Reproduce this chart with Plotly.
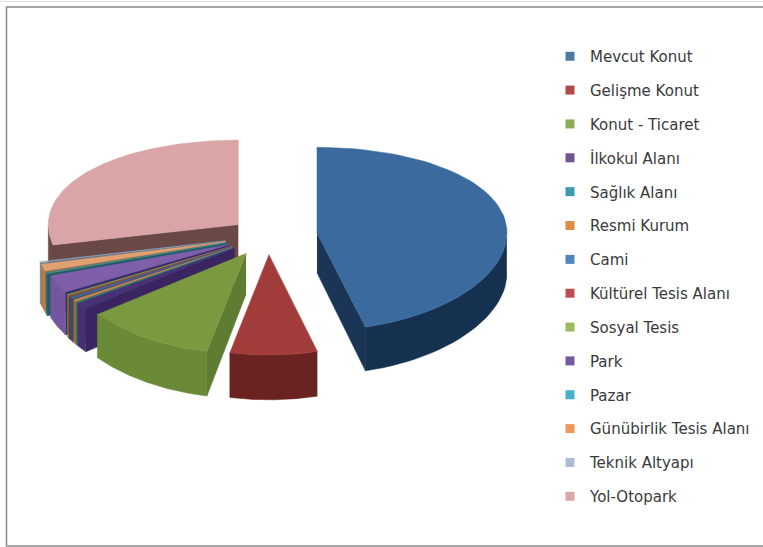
import numpy as np
import plotly.graph_objects as go

# Land-use shares (percent), clockwise from twelve o'clock
categories = ["Mevcut Konut", "Gelişme Konut", "Konut - Ticaret", "İlkokul Alanı", "Sağlık Alanı",
              "Resmi Kurum", "Cami", "Kültürel Tesis Alanı", "Sosyal Tesis", "Park", "Pazar",
              "Günübirlik Tesis Alanı", "Teknik Altyapı", "Yol-Otopark"]
shares = [45.9, 7.4, 11.0, 1.0, 0.15, 0.4, 0.4, 0.2, 0.2, 3.0, 0.25, 1.3, 0.25, 28.55]
explode = [0.26, 0.2, 0.22, 0.22, 0.22, 0.22, 0.22, 0.22, 0.22, 0.22, 0.23, 0.23, 0.23, 0.2]

# Colours: legend swatch, top surface, outer rim, cut face
swatch = ["#4a7ba7", "#b04a48", "#8fac56", "#6f5690", "#3f9bb3", "#de8c42",
          "#4f86b8", "#bb4f4d", "#9cbb58", "#7359a0", "#45b2c8", "#f0975a", "#a9bcd4", "#dba6a6"]
top = ["#3b6a9f", "#a23c3a", "#7b9a40", "#4b3078", "#2f7f93", "#c98a50",
       "#40699a", "#a34a48", "#8aa850", "#7f5fa9", "#2f8f9f", "#e0a070", "#8fa5be", "#d9a5a7"]
rim = ["#16304f", "#6a2321", "#6b8a38", "#46306f", "#24606f", "#a06c38",
       "#2f5077", "#7a3230", "#6f8c3d", "#7355a0", "#236a76", "#b87a48", "#71849c", "#6b4a48"]
face = ["#1a3555", "#5a1d1c", "#5f7c33", "#3a2560", "#1f5260", "#8f6030",
        "#294568", "#6a2a28", "#607a35", "#3d2a68", "#1f5c66", "#a06a40", "#61738a", "#694845"]

# Projection of the tilted pie onto page pixels
CX, CY = 268.0, 236.0
RX, RY, BULGE = 190.0, 92.0, 6.0
WALL, WALL_SLOPE = 40.0, 4.0


def project(x, y, lowered=False):
    x, y = np.asarray(x, float), np.asarray(y, float)
    sx = CX + RX * x
    sy = CY + RY * y + BULGE * y * y
    if lowered:
        sy = sy + WALL + WALL_SLOPE * y
    return sx, sy


def polar(theta):
    return np.sin(theta), -np.cos(theta)


def polygon(xs, ys, color):
    return go.Scatter(x=xs, y=ys, mode="lines", fill="toself", fillcolor=color,
                      line=dict(color=color, width=0.5), hoverinfo="skip", showlegend=False)


fractions = np.array(shares) / sum(shares)
ends = np.cumsum(fractions) * 2 * np.pi
starts = ends - fractions * 2 * np.pi

fig = go.Figure()

# Painter's order: the far slice first, then sweep round to the nearest ones
draw_order = [0] + list(range(len(shares) - 1, 0, -1))
for i in draw_order:
    a, b = starts[i], ends[i]
    mid_x, mid_y = polar((a + b) / 2)
    ox, oy = explode[i] * mid_x, explode[i] * mid_y
    arc = np.linspace(a, b, 60)
    ax, ay = polar(arc)
    ax, ay = ax + ox, ay + oy

    # Cut faces turned towards the viewer
    for edge, visible in ((a, np.sin(a) < 0), (b, np.sin(b) > 0)):
        if visible:
            ex, ey = polar(edge)
            px = np.array([ox, ox + ex])
            py = np.array([oy, oy + ey])
            sx_top, sy_top = project(px, py)
            sx_low, sy_low = project(px, py, lowered=True)
            fig.add_trace(polygon(list(sx_top) + list(sx_low[::-1]),
                                  list(sy_top) + list(sy_low[::-1]), face[i]))

    # Outer rim, only along the front half of the circle
    front = (arc >= np.pi / 2) & (arc <= 3 * np.pi / 2)
    if front.sum() > 1:
        sx_top, sy_top = project(ax[front], ay[front])
        sx_low, sy_low = project(ax[front], ay[front], lowered=True)
        fig.add_trace(polygon(list(sx_top) + list(sx_low[::-1]),
                              list(sy_top) + list(sy_low[::-1]), rim[i]))

    # Top surface
    sx, sy = project(np.r_[ox, ax, ox], np.r_[oy, ay, oy])
    fig.add_trace(polygon(list(sx), list(sy), top[i]))

# Legend entries
for name, color in zip(categories, swatch):
    fig.add_trace(go.Scatter(x=[None], y=[None], mode="markers", name=name, legendgroup=name,
                             marker=dict(symbol="square", size=9, color=color)))

fig.update_layout(
    width=763, height=547, autosize=False,
    margin=dict(l=0, r=0, t=0, b=0),
    paper_bgcolor="#ffffff", plot_bgcolor="#ffffff",
    xaxis=dict(range=[0, 763], visible=False, fixedrange=True),
    yaxis=dict(range=[547, 0], visible=False, fixedrange=True),
    legend=dict(x=558 / 763, y=1 - 40 / 547, xanchor="left", yanchor="top",
                font=dict(family="DejaVu Sans", size=15, color="#3a3a3a"),
                tracegroupgap=11.35, indentation=-8, itemwidth=30,
                bgcolor="rgba(0,0,0,0)"),
    shapes=[
        # Chart frame, open on the right where it runs off the page
        dict(type="rect", xref="paper", yref="paper", x0=6.5 / 763, x1=1.02,
             y0=1 - 546 / 547, y1=1 - 7 / 547,
             line=dict(color="#8a8a8a", width=1.5), layer="below"),
        # Faint sheet line above the frame
        dict(type="line", xref="paper", yref="paper", x0=0, x1=1,
             y0=1 - 1.5 / 547, y1=1 - 1.5 / 547,
             line=dict(color="#e2e2e2", width=1), layer="below"),
    ],
)

fig.write_html("out.html")
